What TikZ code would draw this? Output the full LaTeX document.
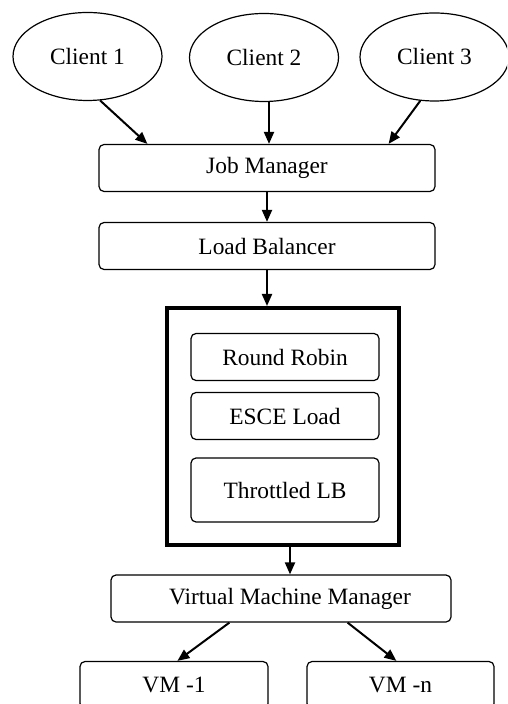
\documentclass[tikz,border=0pt]{standalone}
\usepackage{fontspec}
\setmainfont{Liberation Serif}
\usetikzlibrary{shapes.geometric, arrows.meta, positioning}

\begin{document}
\begin{tikzpicture}[
        x=0.5pt, y=-0.5pt,
        >={Triangle[length=6pt, width=5pt]},
        font=\fontsize{11.7}{14}\selectfont,
        client/.style={ellipse, draw, line width=0.6pt, minimum width=74.5pt, minimum height=44pt, inner sep=0pt},
        block/.style={rectangle, draw, line width=0.6pt, rounded corners=2.5pt, minimum height=23.5pt, inner sep=0pt},
        lbgroup/.style={rectangle, draw, line width=2pt, minimum width=116pt, minimum height=118.5pt},
        link/.style={->, line width=1pt}
    ]
    \path[use as bounding box, clip] (0,0) rectangle (507,704);

    % --- Clients ---
    \node (client1) [client] at (87.5,56.5) {Client 1};
    \node (client2) [client] at (264,57.5) {Client 2};
    \node (client3) [client] at (434.5,57) {Client 3};

    % --- Managers ---
    \node (job) [block, minimum width=168pt] at (267,168) {Job Manager};
    \node (balancer) [block, minimum width=168pt] at (267,246) {Load Balancer};

    % --- Balancing policies ---
    \node (policies) [lbgroup] at (283,426.5) {};
    \node (robin) [block, minimum width=94pt] at (285,357) {Round Robin};
    \node (esce) [block, minimum width=94pt] at (285,416) {ESCE Load};
    \node (throttled) [block, minimum width=94pt, minimum height=32pt] at (285,490) {Throttled LB};

    % --- Virtual machines ---
    \node (vmm) [block, minimum width=170pt] at (281,598.5) {\hspace{9pt}Virtual Machine Manager};
    \node (vm1) [block, minimum width=94pt] at (174,685) {VM -1};
    \node (vmn) [block, minimum width=93.5pt] at (400.5,685) {VM -n};

    % --- Connectors ---
    \draw[link] (client1.-74) -- ([xshift=24.5pt]job.north west);
    \draw[link] ([xshift=2.5pt]client2.south) -- ([xshift=2.5pt]client2.south |- job.north);
    \draw[link] (client3.-108.6) -- ([xshift=-23.5pt]job.north east);
    \draw[link] (job.south) -- (balancer.north);
    \draw[link] (balancer.south) -- (balancer.south |- policies.north);
    \draw[link] ([xshift=3.5pt]policies.south) -- ([xshift=3.5pt]policies.south |- vmm.north);
    \draw[link] ([xshift=59.5pt]vmm.south west) -- ([xshift=49pt]vm1.north west);
    \draw[link] ([xshift=-52pt]vmm.south east) -- ([xshift=45pt]vmn.north west);
\end{tikzpicture}
\end{document}
